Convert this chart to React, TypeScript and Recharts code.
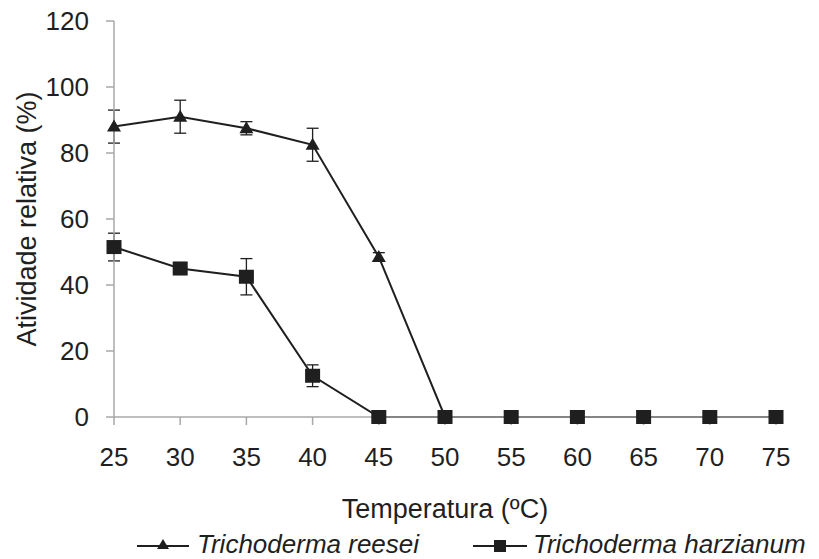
import { LineChart, Line, XAxis, YAxis, ErrorBar, Legend } from 'recharts';

// temperatura (ºC)
const temperatures = [25, 30, 35, 40, 45, 50, 55, 60, 65, 70, 75];
// atividade relativa (%) e desvio
const reeseiValues = [88, 91, 87.5, 82.5, 48.5, 0, 0, 0, 0, 0, 0];
const reeseiErrors = [5, 5, 2, 5, 1.3, 0, 0, 0, 0, 0, 0];
const harzianumValues = [51.5, 45, 42.5, 12.5, 0, 0, 0, 0, 0, 0, 0];
const harzianumErrors = [4.2, 1.8, 5.5, 3.3, 0, 0, 0, 0, 0, 0, 0];

const xTicks = [25, 30, 35, 40, 45, 50, 55, 60, 65, 70, 75];
const yTicks = [0, 20, 40, 60, 80, 100, 120];

const FONT = '"Liberation Sans", Arial, sans-serif';
const INK = '#1f1f1f';
const AXIS = '#a8a8a8';

const data = temperatures.map((t, i) => ({
  temp: t,
  reesei: reeseiValues[i],
  reeseiErr: reeseiErrors[i],
  harzianum: harzianumValues[i],
  harzianumErr: harzianumErrors[i],
}));

const TriangleDot = (props: any) => {
  const { cx, cy, index } = props;
  if (cx == null || cy == null) return null;
  return (
    <path
      key={`tri-${index}`}
      d={`M${cx},${cy - 7} L${cx + 7},${cy + 5} L${cx - 7},${cy + 5} Z`}
      fill={INK}
    />
  );
};

const SquareDot = (props: any) => {
  const { cx, cy, index } = props;
  if (cx == null || cy == null) return null;
  return <rect key={`sq-${index}`} x={cx - 7.5} y={cy - 7} width={15} height={14} fill={INK} />;
};

const LegendContent = () => (
  <div style={{ position: 'relative', width: 768, height: 30, fontFamily: FONT, fontSize: 26, color: INK }}>
    <svg style={{ position: 'absolute', left: 129, top: 5 }} width={52} height={20}>
      <line x1={0} y1={12} x2={52} y2={12} stroke={INK} strokeWidth={2} />
      <path d="M26,5 L32,15 L20,15 Z" fill={INK} />
    </svg>
    <span style={{ position: 'absolute', left: 189, top: 0, fontStyle: 'italic', whiteSpace: 'nowrap', lineHeight: '30px' }}>
      Trichoderma reesei
    </span>
    <svg style={{ position: 'absolute', left: 465, top: 5 }} width={54} height={20}>
      <line x1={0} y1={12} x2={54} y2={12} stroke={INK} strokeWidth={2} />
      <rect x={21} y={6} width={12} height={12} fill={INK} />
    </svg>
    <span style={{ position: 'absolute', left: 525, top: 0, fontStyle: 'italic', whiteSpace: 'nowrap', lineHeight: '30px' }}>
      Trichoderma harzianum
    </span>
  </div>
);

export default function App() {
  const tickStyle = { fontSize: 26, fill: INK, fontFamily: FONT };
  return (
    <div style={{ width: 811, height: 551, background: '#fff' }}>
      <style>{`.recharts-surface { overflow: visible; }`}</style>
      <LineChart width={811} height={551} data={data} margin={{ top: 13, right: 43, left: 0, bottom: 0 }}>
        <XAxis
          dataKey="temp"
          type="number"
          domain={[25, 75]}
          ticks={xTicks}
          interval={0}
          height={112}
          tickSize={8}
          tickMargin={23}
          tick={tickStyle}
          stroke={AXIS}
          strokeWidth={1.5}
          label={{
            value: 'Temperatura (ºC)',
            position: 'insideBottom',
            offset: 11,
            style: { fontSize: 27, fill: INK, fontFamily: FONT },
          }}
        />
        <YAxis
          domain={[0, 120]}
          ticks={yTicks}
          interval={0}
          width={106}
          tickSize={8}
          tickMargin={17}
          tick={tickStyle}
          stroke={AXIS}
          strokeWidth={1.5}
          label={{
            value: 'Atividade relativa (%)',
            angle: -90,
            position: 'insideLeft',
            offset: 18,
            style: { fontSize: 27, fill: INK, fontFamily: FONT, textAnchor: 'middle' },
          }}
        />
        <Legend verticalAlign="bottom" content={LegendContent} />
        <Line
          dataKey="reesei"
          stroke={INK}
          strokeWidth={2}
          dot={TriangleDot}
          activeDot={false}
          isAnimationActive={false}
        >
          <ErrorBar dataKey="reeseiErr" direction="y" width={6} stroke={INK} strokeWidth={1.3} />
        </Line>
        <Line
          dataKey="harzianum"
          stroke={INK}
          strokeWidth={2}
          dot={SquareDot}
          activeDot={false}
          isAnimationActive={false}
        >
          <ErrorBar dataKey="harzianumErr" direction="y" width={6} stroke={INK} strokeWidth={1.3} />
        </Line>
      </LineChart>
    </div>
  );
}
